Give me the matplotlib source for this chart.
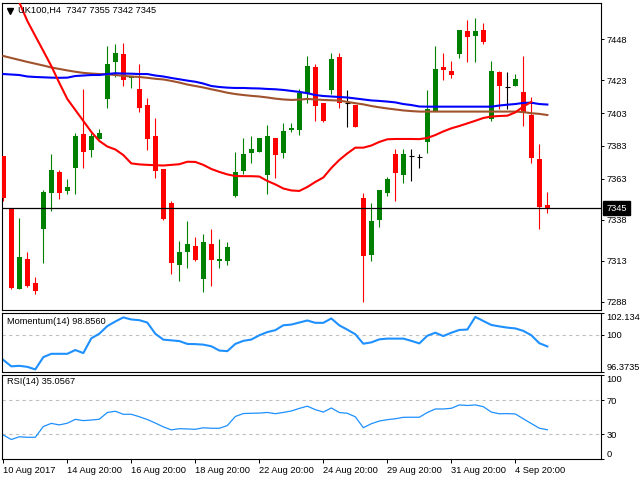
import matplotlib
matplotlib.use('Agg')
import matplotlib.pyplot as plt
import matplotlib.transforms as mtransforms
from matplotlib.lines import Line2D
import numpy as np

plt.rcParams['font.family'] = ['Liberation Sans', 'DejaVu Sans']
FS = 6.7
plt.rcParams['font.size'] = FS

# UK100 H4 candles
opens = [7377, 7345, 7296, 7314, 7299.4, 7332, 7354, 7367, 7355.5, 7369.7,
         7390.3, 7380.7, 7387.2, 7411.8, 7434.2, 7439, 7424.2, 7417.7, 7408, 7389,
         7368.9, 7348.2, 7310.6, 7318.5, 7322, 7302, 7323.2, 7313, 7313, 7352.6,
         7367.9, 7378.8, 7379.5, 7365.4, 7387.8, 7378.8, 7392.9, 7392.9, 7415, 7431.1,
         7409.2, 7417.3, 7437.2, 7409.2, 7408, 7351, 7316.7, 7338, 7354.5, 7378,
         7365.4, 7376.8, 7376.2, 7385.6, 7404.5, 7431, 7428.7, 7439.2, 7453, 7450.2,
         7453.7, 7399.6, 7428, 7418.7, 7419.5, 7415.9, 7402, 7375, 7347]
highs = [7377, 7345, 7339, 7318.3, 7303, 7356, 7378, 7368.3, 7362.8, 7391,
         7417.7, 7391, 7393.5, 7443.9, 7445, 7445.7, 7425.8, 7433, 7412, 7400,
         7369, 7349.2, 7325, 7337, 7327.5, 7329.3, 7332.3, 7326.2, 7324.4, 7379.3,
         7388, 7389, 7388, 7395.7, 7388, 7397, 7397, 7417.7, 7437.8, 7432.9,
         7409.2, 7439.6, 7439.6, 7417, 7408, 7354.5, 7348.4, 7356, 7364.2, 7381,
         7381, 7381, 7378, 7417, 7443.9, 7439.6, 7434.8, 7453.7, 7459.8, 7461,
         7458, 7434.8, 7428.7, 7428, 7426.8, 7437.8, 7412.8, 7384.2, 7355]
lows = [7349.5, 7296, 7296, 7297, 7292.9, 7311.8, 7343, 7350.8, 7353.9, 7353.9,
        7369.7, 7376.4, 7387, 7406.3, 7425, 7419.5, 7418.3, 7403.9, 7380.7, 7363.6,
        7338, 7305, 7300.8, 7308.7, 7313, 7294, 7297.8, 7308.7, 7310.6, 7352,
        7365.6, 7372.8, 7379.5, 7353.9, 7363.6, 7375.8, 7391.6, 7389.8, 7409.3, 7398.4,
        7397.8, 7414.8, 7406.3, 7394.7, 7394.7, 7288, 7313, 7333.7, 7352.6, 7349.6,
        7360.6, 7361.8, 7369.7, 7378.9, 7404.5, 7423.2, 7424.4, 7436.8, 7434.2, 7434.2,
        7445.3, 7398.4, 7405.7, 7405.7, 7419.5, 7395.3, 7372.8, 7332.5, 7342]
closes = [7351.4, 7296.5, 7315.3, 7297.8, 7294.5, 7355, 7368.3, 7354.5, 7358, 7389,
          7379.5, 7389, 7390.9, 7433, 7439.6, 7423.2, 7425.6, 7406.3, 7387.4, 7367.9,
          7338.6, 7311.8, 7318.3, 7323.2, 7313.4, 7324.4, 7313.6, 7314.2, 7321.4, 7367,
          7378, 7381, 7387.8, 7389, 7377.6, 7392, 7393.9, 7415.3, 7431.7, 7407.3,
          7398.4, 7436, 7409.3, 7409.2, 7394.7, 7316, 7337.2, 7356, 7362.8, 7366.7,
          7378, 7376.8, 7376.2, 7405.5, 7429.9, 7429.3, 7426.2, 7453.7, 7449.6, 7453,
          7446.5, 7428.7, 7419.5, 7418.7, 7423.8, 7403.9, 7375.8, 7345.9, 7345]

# moving averages
ma_red = [7493.9, 7482.4, 7470.5, 7459.2, 7450, 7440.9, 7431.7, 7421.4, 7411.6, 7404.9,
          7398.2, 7391.5, 7386, 7382.6, 7380.8, 7377.4, 7372.3, 7371.7, 7371.4, 7371.2,
          7371, 7371.4, 7371.8, 7373.3, 7373.2, 7371.4, 7368.9, 7367.1, 7365.6, 7364.6,
          7364.5, 7364.5, 7364.3, 7361.6, 7359.5, 7357, 7355.8, 7355.5, 7357.9, 7361,
          7363.7, 7369.5, 7374.4, 7378.4, 7381.9, 7381.9, 7383.2, 7385.4, 7387, 7387.2,
          7387.2, 7387.2, 7387.1, 7387.8, 7389.6, 7391.8, 7393.7, 7395.1, 7396.7, 7398.3,
          7400, 7400.9, 7401.2, 7401.4, 7403.4, 7407, 7409.8, np.nan, np.nan]
ma_blue = [7426.8, 7426.5, 7426.2, 7425.3, 7425, 7424.8, 7424.6, 7424.5, 7424.6, 7425.6,
           7425.9, 7426.2, 7426.2, 7426.8, 7427.3, 7427.1, 7427, 7426.8, 7426.8, 7425.9,
           7425.3, 7424.4, 7423.6, 7422.8, 7422.1, 7421, 7419.5, 7418.9, 7418.5, 7418.3,
           7418.3, 7418.1, 7418, 7417.7, 7417.5, 7417.1, 7416.5, 7415.9, 7415.1, 7414,
           7413.4, 7413.1, 7412.8, 7412.5, 7411.9, 7411.3, 7410.7, 7410.4, 7410, 7409.5,
           7408.5, 7407.9, 7407, 7406.9, 7406.9, 7406.9, 7406.9, 7406.9, 7406.9, 7406.9,
           7406.9, 7406.9, 7407.6, 7408.1, 7408.5, 7409.2, 7409.3, 7408.5, 7408.2]
ma_brown = [7437.8, 7436.6, 7435.4, 7434.2, 7433.1, 7432, 7430.8, 7429.9, 7429, 7428.2,
            7427.5, 7427.1, 7426.8, 7426.6, 7426.2, 7425.7, 7425.3, 7425, 7424.5, 7423.9,
            7423.5, 7422.6, 7421.6, 7420.4, 7419.5, 7418.6, 7417.5, 7416.5, 7415.4, 7414.6,
            7414, 7413.5, 7413.1, 7412.5, 7411.8, 7411.3, 7411, 7411.2, 7411.6, 7411.3,
            7411, 7410.8, 7410.6, 7409.8, 7409, 7408.3, 7407.3, 7406.5, 7405.8, 7405.2,
            7404.6, 7404.2, 7403.9, 7403.9, 7403.9, 7403.9, 7403.9, 7403.9, 7403.9, 7403.9,
            7403.9, 7403.9, 7403.9, 7403.9, 7403.9, 7403.6, 7402.9, 7402.5, 7401.8]

momentum = [97.53, 96.9, 96.95, 96.85, 96.6, 97.8, 98.13, 98.13, 98.13, 98.5,
            98.2, 99.65, 100.1, 100.85, 101.3, 101.7, 101.5, 101.43, 101.2, 100.1,
            99.52, 99.45, 99.38, 99.1, 99.08, 99.03, 98.87, 98.45, 98.39, 99.1,
            99.4, 99.53, 99.95, 100.26, 100.45, 100.93, 101.0, 101.2, 101.4, 101.17,
            101.17, 101.6, 100.92, 100.5, 100.05, 99.12, 99.25, 99.55, 99.62, 99.62,
            99.62, 99.4, 99.15, 99.9, 100.2, 99.87, 100.2, 100.47, 100.51, 101.75,
            101.35, 100.96, 100.82, 100.7, 100.62, 100.38, 99.95, 99.17, 98.856]
rsi = [28.8, 23.5, 26.7, 26.1, 26.1, 38.9, 42.6, 40.8, 42.8, 47.4,
       45.9, 46.6, 47.5, 55.5, 57, 53.4, 53.4, 50.5, 47.2, 43,
       38.5, 34.9, 36.3, 36, 35.6, 37.4, 36.8, 36.8, 40, 50.8,
       54.3, 54.6, 54.8, 55.6, 54.1, 55.6, 57.3, 60.4, 63, 58.9,
       56, 60.9, 55.5, 54.6, 50.4, 37.5, 42.2, 45.4, 47, 48.1,
       49.8, 49.9, 49.9, 55.5, 59.7, 59.7, 60.5, 64.5, 63.8, 64.5,
       62.4, 56, 54, 54.2, 53.8, 48, 42.4, 36.9, 35.06]

date_labels = ['10 Aug 2017', '14 Aug 20:00', '16 Aug 20:00', '18 Aug 20:00',
               '22 Aug 20:00', '24 Aug 20:00', '29 Aug 20:00', '31 Aug 20:00',
               '4 Sep 20:00']
date_bars = [0, 8, 16, 24, 32, 40, 48, 56, 64]
price_ticks = [7448, 7423, 7403, 7383, 7363, 7338, 7313, 7288]
last_price = 7345

W, H = 640, 480
fig = plt.figure(figsize=(W / 100, H / 100), dpi=100)
fig.patch.set_facecolor('white')


def px_axes(left, top, right, bottom):
    return fig.add_axes([left / W, 1 - bottom / H, (right - left) / W, (bottom - top) / H])


XLIM = (-0.125, 74.67)


def style(ax):
    ax.set_xlim(*XLIM)
    for s in ax.spines.values():
        s.set_color('black')
        s.set_linewidth(0.8)
    ax.yaxis.tick_right()
    ax.tick_params(axis='y', length=2.5, pad=1.5, labelsize=FS, width=0.7)
    ax.set_xticks([])


# main price window
ax = px_axes(2.3, 2.7, 600.7, 310)
style(ax)
ax.set_ylim(7282.9, 7470.3)

x = np.arange(len(opens))
o = np.array(opens)
c = np.array(closes)
h = np.array(highs)
l = np.array(lows)
cols = np.where(c > o, '#008000', np.where(c < o, '#ff0000', '#000000'))
flat = c == o
ax.vlines(x, l, h, colors=cols, linewidth=0.8, zorder=2)
ax.bar(x[~flat], np.abs(c - o)[~flat], bottom=np.minimum(o, c)[~flat], width=0.62,
       color=cols[~flat], linewidth=0, zorder=3)
ax.hlines(o[flat], x[flat] - 0.35, x[flat] + 0.35, colors='black', linewidth=0.8, zorder=3)

ax.plot(x, ma_brown, color='#a0522d', linewidth=1.5, zorder=4)
ax.plot(x, ma_blue, color='#0000ff', linewidth=1.5, zorder=4)
ax.plot(x, ma_red, color='#ff0000', linewidth=1.5, zorder=4)

ax.axhline(last_price, color='black', linewidth=0.9, zorder=5)
ax.set_yticks(price_ticks)
ax.set_yticklabels([str(v) for v in price_ticks])
trans = mtransforms.blended_transform_factory(ax.transAxes, ax.transData)
ax.annotate(str(last_price), xy=(1, last_price), xycoords=trans, xytext=(4, 0),
            textcoords='offset points', color='white', va='center', ha='left', fontsize=FS,
            bbox=dict(boxstyle='square,pad=0.3', fc='black', ec='black'),
            annotation_clip=False, zorder=10)

fig.add_artist(Line2D([9.5 / W], [1 - 10.5 / H], marker='v', markersize=4, color='black',
                      transform=fig.transFigure))
fig.text(18 / W, 1 - 10.7 / H, 'UK100,H4  7347 7355 7342 7345', va='center', ha='left', fontsize=FS)

# momentum window
axm = px_axes(2.3, 313, 600.7, 371.7)
style(axm)
axm.set_ylim(96.3735, 102.1345)
axm.axhline(100, color='#c0c0c0', linestyle=(0, (3, 3)), linewidth=0.8)
axm.plot(x, momentum, color='#1e90ff', linewidth=1.5)
axm.set_yticks([96.3735, 100, 102.1345])
axm.set_yticklabels(['96.3735', '100', '102.1345'])
mt = axm.yaxis.get_major_ticks()
mt[0].label2.set_va('bottom')
mt[2].label2.set_va('top')
fig.text(7 / W, 1 - 321 / H, 'Momentum(14) 98.8560', va='center', ha='left', fontsize=FS)

# RSI window
axr = px_axes(2.3, 375, 600.7, 459.3)
style(axr)
axr.set_ylim(0, 100)
for lv in (70, 30):
    axr.axhline(lv, color='#c0c0c0', linestyle=(0, (3, 3)), linewidth=0.8)
axr.plot(x, rsi, color='#1e90ff', linewidth=0.9)
axr.set_yticks([0, 30, 70, 100])
axr.set_yticklabels(['0', '30', '70', '100'])
rt = axr.yaxis.get_major_ticks()
rt[0].label2.set_va('bottom')
rt[3].label2.set_va('top')
axr.set_xticks(date_bars)
axr.set_xticklabels(date_labels, ha='left')
axr.tick_params(axis='x', length=3, pad=1.5, labelsize=FS, width=0.7)
fig.text(7 / W, 1 - 382 / H, 'RSI(14) 35.0567', va='center', ha='left', fontsize=FS)

fig.savefig('out.png', dpi=100, facecolor='white')
